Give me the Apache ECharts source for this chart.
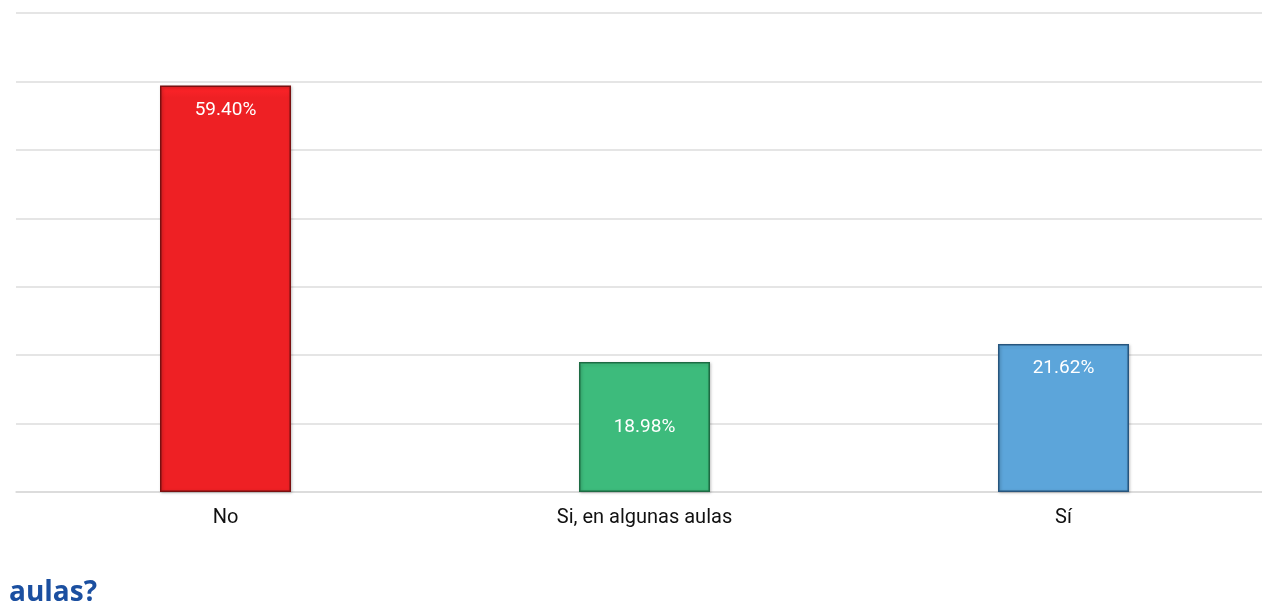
<!DOCTYPE html>
<html>
<head>
<meta charset="utf-8">
<script src="https://cdn.jsdelivr.net/npm/echarts@6/dist/echarts.min.js"></script>
<style>
  html, body { margin: 0; padding: 0; background: #fff; }
  #chartDiv { width: 1262px; height: 610px; }
</style>
</head>
<body>
<div id="chartDiv"></div>
<script>
// datos
let categories = ["No", "Si, en algunas aulas", "Sí"];
let values = [59.40, 18.98, 21.62];
let barColors = ["#ee2024", "#3dbb7c", "#5ca5da"];
let borderColors = ["#7a1010", "#1d6b43", "#27557d"];
let labelPos = ["insideTop", "inside", "insideTop"];

let chart = echarts.init(document.getElementById("chartDiv"));

let seriesData = [];
for (let i = 0; i < values.length; i++) {
    seriesData.push({
        value: values[i],
        itemStyle: {
            color: {
                type: "linear", x: 0, y: 0, x2: 0, y2: 1,
                colorStops: [
                    { offset: 0, color: echarts.color.lift(barColors[i], -0.15) },
                    { offset: 0.03, color: barColors[i] },
                    { offset: 1, color: barColors[i] },
                ],
            },
            borderColor: borderColors[i],
            borderWidth: 1.5,
            shadowColor: "rgba(0,0,0,0.25)",
            shadowBlur: 3,
            shadowOffsetX: 1,
            shadowOffsetY: 1,
        },
        label: {
            position: labelPos[i],
            distance: 15,
        },
    });
}

chart.setOption({
    animation: false,
    grid: {
        left: 16,
        right: -11,
        top: 13,
        bottom: 118,
        containLabel: false,
        outerBoundsMode: "none",
    },
    xAxis: {
        type: "category",
        data: categories,
        axisLine: { show: true, lineStyle: { color: "#d9d9d9", width: 1.5 } },
        axisTick: { show: false },
        axisLabel: {
            color: "#111",
            fontSize: 20,
            fontFamily: "Roboto",
            margin: 16,
        },
    },
    yAxis: {
        type: "value",
        min: 0,
        max: 70,
        interval: 10,
        axisLabel: { show: false },
        axisLine: { show: false },
        axisTick: { show: false },
        splitLine: { lineStyle: { color: "#dcdcdc", width: 1.5 } },
    },
    series: [
        {
            type: "bar",
            barWidth: 131,
            data: seriesData,
            label: {
                show: true,
                color: "#fff",
                fontSize: 19,
                fontFamily: "Roboto",
                formatter: function (p) {
                    return p.value.toFixed(2) + "%";
                },
            },
        },
    ],
    graphic: [
        {
            type: "text",
            left: 9,
            top: 579,
            style: {
                text: "aulas?",
                fill: "#1b4fa0",
                font: "bold 28px 'Open Sans'",
            },
        },
    ],
});

window.onresize = function () {
    chart.resize();
};
</script>
</body>
</html>
